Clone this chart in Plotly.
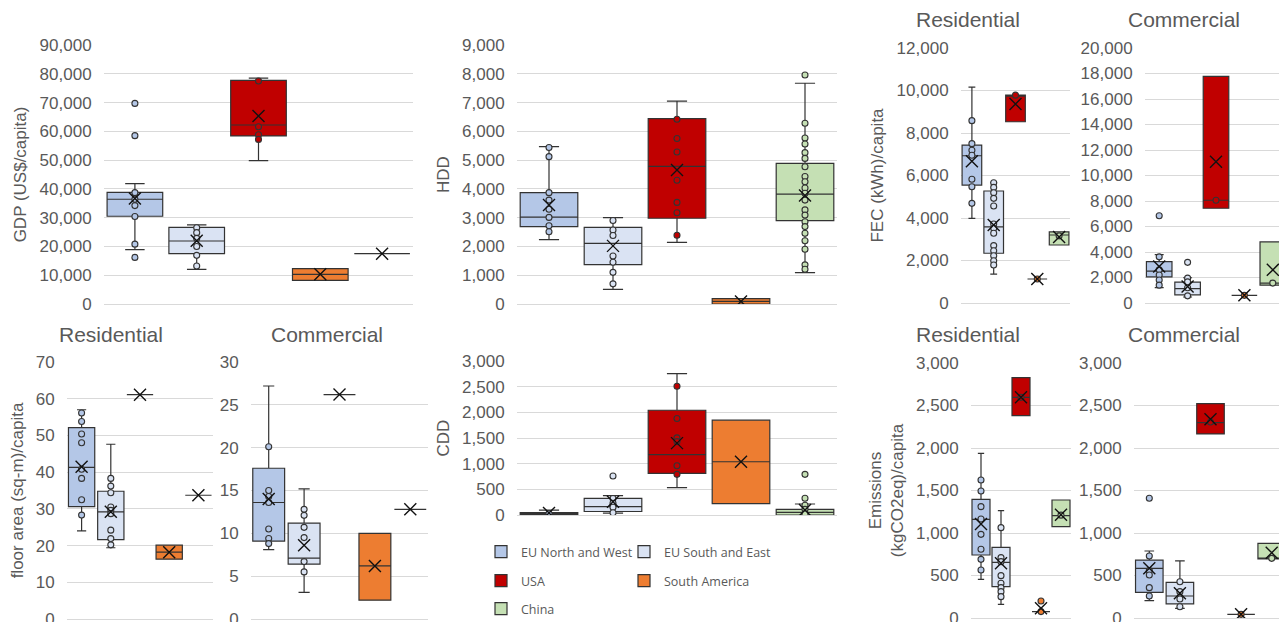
import plotly.graph_objects as go

REGIONS = ["EU North and West", "EU South and East", "USA", "South America", "China"]
FILLS = ["#B4C7E7", "#DAE3F3", "#C00000", "#ED7D31", "#C5E0B4"]

# ---- GDP (US$/capita)
GDP_LO = [18900, 12000, 49800, 8200, 17500]
GDP_Q1 = [30500, 17500, 58400, 8200, 17500]
GDP_MED = [36400, 21900, 62200, 10300, 17500]
GDP_Q3 = [38800, 26600, 77700, 12300, 17500]
GDP_HI = [41800, 27500, 78500, 12300, 17500]
GDP_MEAN = [36700, 22000, 65300, 10300, 17500]
GDP_PTS = [[69700, 58500, 38700, 36400, 34200, 30400, 20800, 16200],
           [26500, 24800, 22800, 20000, 16900, 13200],
           [77500, 61600, 58800, 57200], [], []]

# ---- HDD
HDD_LO = [2240, 510, 2140, 0, 1090]
HDD_Q1 = [2690, 1370, 2980, 0, 2900]
HDD_MED = [3020, 2110, 4780, 90, 3820]
HDD_Q3 = [3870, 2660, 6440, 185, 4890]
HDD_HI = [5470, 3000, 7050, 185, 7670]
HDD_MEAN = [3440, 2020, 4660, 90, 3770]
HDD_PTS = [[5440, 5120, 3870, 3610, 3290, 3010, 2720, 2510],
           [2900, 2570, 2380, 1670, 1450, 1100, 700],
           [6420, 5750, 5280, 4300, 3530, 3170, 2390],
           [],
           [7960, 6280, 5770, 5560, 5260, 5060, 4770, 4430, 4250, 4030, 3850,
            3610, 3270, 3090, 2860, 2690, 2460, 2200, 1900, 1360, 1210]]

# ---- FEC residential (kWh/capita)
FECR_LO = [3980, 1360, 8530, 1130, 2730]
FECR_Q1 = [5550, 2340, 8530, 1130, 2730]
FECR_MED = [6930, 3580, 9780, 1130, 3200]
FECR_Q3 = [7430, 5270, 9780, 1130, 3350]
FECR_HI = [10160, 5660, 9780, 1130, 3350]
FECR_MEAN = [6670, 3670, 9360, 1130, 3110]
FECR_PTS = [[8580, 7500, 7190, 6950, 5820, 5470, 4690],
            [5660, 5440, 5190, 4925, 4565, 3720, 3515, 3280, 2700, 2460, 2225, 1990, 1790],
            [9780], [1130], [3160]]

# ---- FEC commercial (kWh/capita)
FECC_LO = [1200, 470, 7430, 600, 1400]
FECC_Q1 = [2050, 640, 7430, 600, 1400]
FECC_MED = [2500, 1120, 8060, 600, 1560]
FECC_Q3 = [3240, 1640, 17780, 600, 4790]
FECC_HI = [3800, 1980, 17780, 600, 4790]
FECC_MEAN = [2860, 1290, 11080, 600, 2600]
FECC_PTS = [[6840, 3620, 2600, 2200, 1800, 1400],
            [3190, 1950, 1660, 1200, 560],
            [8060], [600], [1560]]

# ---- Floor area residential (sq-m/capita)
FLR_LO = [24.0, 19.4, 61.1, 16.3, 33.7]
FLR_Q1 = [30.6, 21.6, 61.1, 16.3, 33.7]
FLR_MED = [41.3, 29.2, 61.1, 18.2, 33.7]
FLR_Q3 = [52.1, 34.8, 61.1, 20.1, 33.7]
FLR_HI = [57.0, 47.6, 61.1, 20.1, 33.7]
FLR_MEAN = [41.5, 29.2, 61.1, 18.2, 33.7]
FLR_PTS = [[56.1, 53.8, 50.4, 48.0, 40.8, 38.3, 32.5, 28.3],
           [38.3, 36.2, 34.4, 30.5, 29.6, 28.7, 24.2, 21.9, 20.2],
           [], [], []]

# ---- Floor area commercial (sq-m/capita)
FLC_LO = [8.1, 3.1, 26.2, 2.2, 12.8]
FLC_Q1 = [9.1, 6.4, 26.2, 2.2, 12.8]
FLC_MED = [13.6, 7.1, 26.2, 6.2, 12.8]
FLC_Q3 = [17.6, 11.2, 26.2, 10.0, 12.8]
FLC_HI = [27.2, 15.2, 26.2, 10.0, 12.8]
FLC_MEAN = [14.0, 8.6, 26.2, 6.2, 12.8]
FLC_PTS = [[20.1, 15.0, 14.3, 13.6, 10.5, 9.4, 8.8],
           [12.8, 12.1, 10.7, 9.5, 6.7, 5.5],
           [], [], []]

# ---- CDD
CDD_LO = [0, 35, 532, 220, 0]
CDD_Q1 = [0, 68, 810, 220, 0]
CDD_MED = [20, 162, 1178, 1037, 50]
CDD_Q3 = [45, 322, 2041, 1847, 110]
CDD_HI = [95, 376, 2754, 1847, 214]
CDD_MEAN = [40, 260, 1400, 1037, 97]
CDD_PTS = [[30],
           [760, 320, 230, 150, 45],
           [2508, 1879, 1503, 1430, 960, 792],
           [],
           [792, 325, 190, 110, 25]]

# ---- Emissions residential (kgCO2eq/capita)
EMR_LO = [455, 161, 2380, 75, 1075]
EMR_Q1 = [741, 369, 2380, 75, 1075]
EMR_MED = [1161, 655, 2596, 75, 1204]
EMR_Q3 = [1396, 831, 2827, 75, 1388]
EMR_HI = [1937, 1263, 2827, 75, 1388]
EMR_MEAN = [1106, 643, 2596, 114, 1215]
EMR_PTS = [[1624, 1494, 1310, 1165, 984, 808, 690, 565],
           [1063, 710, 663, 498, 408, 357, 310, 251],
           [2596], [200, 75], [1210]]

# ---- Emissions commercial (kgCO2eq/capita)
EMC_LO = [204, 114, 2165, 43, 694]
EMC_Q1 = [302, 165, 2165, 43, 694]
EMC_MED = [584, 259, 2298, 43, 702]
EMC_Q3 = [682, 420, 2522, 43, 878]
EMC_HI = [788, 671, 2522, 43, 878]
EMC_MEAN = [584, 290, 2337, 43, 768]
EMC_PTS = [[1408, 729, 557, 506, 357, 259],
           [427, 310, 224, 133],
           [2306], [43], [702]]

# page body has an 8px margin: figure is drawn 8px in from the window corner
OFF = 8
W, H = 1287 - OFF, 622 - OFF
FONT = "Liberation Sans, Arial, sans-serif"
GREY = "#595959"


def px(x):
    return (x - OFF) / W


def py(y):
    return 1 - (y - OFF) / H


# (data, window-pixel box x0, x1, y0, y1, ymax, dtick, y-title)
PANELS = [
    ((GDP_LO, GDP_Q1, GDP_MED, GDP_Q3, GDP_HI, GDP_MEAN, GDP_PTS), 104, 413, 45, 304, 90000, 10000, "GDP (US$/capita)"),
    ((HDD_LO, HDD_Q1, HDD_MED, HDD_Q3, HDD_HI, HDD_MEAN, HDD_PTS), 517, 837, 45, 304, 9000, 1000, "HDD"),
    ((FECR_LO, FECR_Q1, FECR_MED, FECR_Q3, FECR_HI, FECR_MEAN, FECR_PTS), 961, 1070, 48, 303, 12000, 2000, "FEC (kWh)/capita"),
    ((FECC_LO, FECC_Q1, FECC_MED, FECC_Q3, FECC_HI, FECC_MEAN, FECC_PTS), 1145, 1287, 48, 303, 20000, 2000, None),
    ((FLR_LO, FLR_Q1, FLR_MED, FLR_Q3, FLR_HI, FLR_MEAN, FLR_PTS), 67, 213, 362, 619, 70, 10, "floor area (sq-m)/capita"),
    ((FLC_LO, FLC_Q1, FLC_MED, FLC_Q3, FLC_HI, FLC_MEAN, FLC_PTS), 251, 428, 362, 619, 30, 5, None),
    ((CDD_LO, CDD_Q1, CDD_MED, CDD_Q3, CDD_HI, CDD_MEAN, CDD_PTS), 517, 837, 361, 515, 3000, 500, "CDD"),
    ((EMR_LO, EMR_Q1, EMR_MED, EMR_Q3, EMR_HI, EMR_MEAN, EMR_PTS), 971, 1071, 363, 618, 3000, 500, "Emissions<br>(kgCO2eq)/capita"),
    ((EMC_LO, EMC_Q1, EMC_MED, EMC_Q3, EMC_HI, EMC_MEAN, EMC_PTS), 1134, 1287, 363, 618, 3000, 500, None),
]
LEGEND_PANEL = 6
LEGEND_OF = ["legend", "legend2", "legend3", "legend4", "legend5"]
# legend entries: text-left x and text-centre y in window pixels
LEGEND_POS = [(521, 552), (664, 552), (521, 581), (664, 581), (521, 609)]

fig = go.Figure()
layout = {}
for p, (data, x0, x1, y0, y1, ymax, dtick, ytitle) in enumerate(PANELS):
    lo, q1, med, q3, hi, mean, pts = data
    sfx = "" if p == 0 else str(p + 1)
    xa, ya = "x" + sfx, "y" + sfx
    for i, reg in enumerate(REGIONS):
        fig.add_trace(go.Box(
            x=[reg], q1=[q1[i]], median=[med[i]], q3=[q3[i]],
            lowerfence=[lo[i]], upperfence=[hi[i]],
            name=reg, fillcolor=FILLS[i],
            line=dict(color="#333333", width=1.2),
            whiskerwidth=0.35, boxpoints=False,
            legendgroup=reg, showlegend=(p == LEGEND_PANEL),
            legend=LEGEND_OF[i],
            xaxis=xa, yaxis=ya))
    for i, reg in enumerate(REGIONS):
        if pts[i]:
            fig.add_trace(go.Scatter(
                x=[reg] * len(pts[i]), y=pts[i], mode="markers",
                marker=dict(symbol="circle", size=6, color=FILLS[i],
                            line=dict(color="#333333", width=1.1)),
                showlegend=False, legendgroup=reg, xaxis=xa, yaxis=ya))
    fig.add_trace(go.Scatter(
        x=REGIONS, y=mean, mode="markers",
        marker=dict(symbol="x-thin", size=12, color="#111111",
                    line=dict(color="#111111", width=1.4)),
        showlegend=False, xaxis=xa, yaxis=ya))

    layout["xaxis" + sfx] = dict(
        domain=[px(x0), min(px(x1), 1)], anchor=ya, type="category",
        categoryorder="array", categoryarray=REGIONS, range=[-0.5, 4.5],
        showgrid=False, showticklabels=False, zeroline=False, showline=False,
        ticks="", fixedrange=True)
    yax = dict(
        domain=[max(py(y1), 0), py(y0)], anchor=xa, range=[0, ymax],
        dtick=dtick, tick0=0, tickformat=",", showgrid=True,
        gridcolor="#D9D9D9", gridwidth=1, zeroline=True,
        zerolinecolor="#D9D9D9", zerolinewidth=1, showline=False,
        ticks="outside", ticklen=8, tickcolor="rgba(0,0,0,0)",
        ticklabeloverflow="allow",
        tickfont=dict(family=FONT, size=17, color=GREY), fixedrange=True)
    if ytitle:
        yax["title"] = dict(text=ytitle, standoff=8,
                            font=dict(family=FONT, size=17, color=GREY))
    layout["yaxis" + sfx] = yax

SUBTITLES = [("Residential", 968, 19), ("Commercial", 1184, 19),
             ("Residential", 111, 334), ("Commercial", 327, 334),
             ("Residential", 968, 334), ("Commercial", 1184, 334)]
annotations = [dict(text=t, x=px(x), y=py(y), xref="paper", yref="paper",
                    xanchor="center", yanchor="middle", showarrow=False,
                    font=dict(family=FONT, size=21, color=GREY))
               for t, x, y in SUBTITLES]

legfont = dict(family="Open Sans, sans-serif", size=12.5, color=GREY)
legends = {}
for i, (tx, ty) in enumerate(LEGEND_POS):
    legends[LEGEND_OF[i]] = dict(
        orientation="v", xanchor="left", yanchor="top",
        x=px(tx - 40), y=py(ty - 15),
        bgcolor="rgba(0,0,0,0)", font=legfont,
        itemclick=False, itemdoubleclick=False)

fig.update_layout(
    width=W, height=H,
    margin=dict(l=0, r=0, t=0, b=0, autoexpand=False),
    paper_bgcolor="white", plot_bgcolor="white",
    boxmode="overlay", boxgap=0.1, boxgroupgap=0,
    annotations=annotations,
    **legends,
    **layout)

fig.write_html("out.html")
